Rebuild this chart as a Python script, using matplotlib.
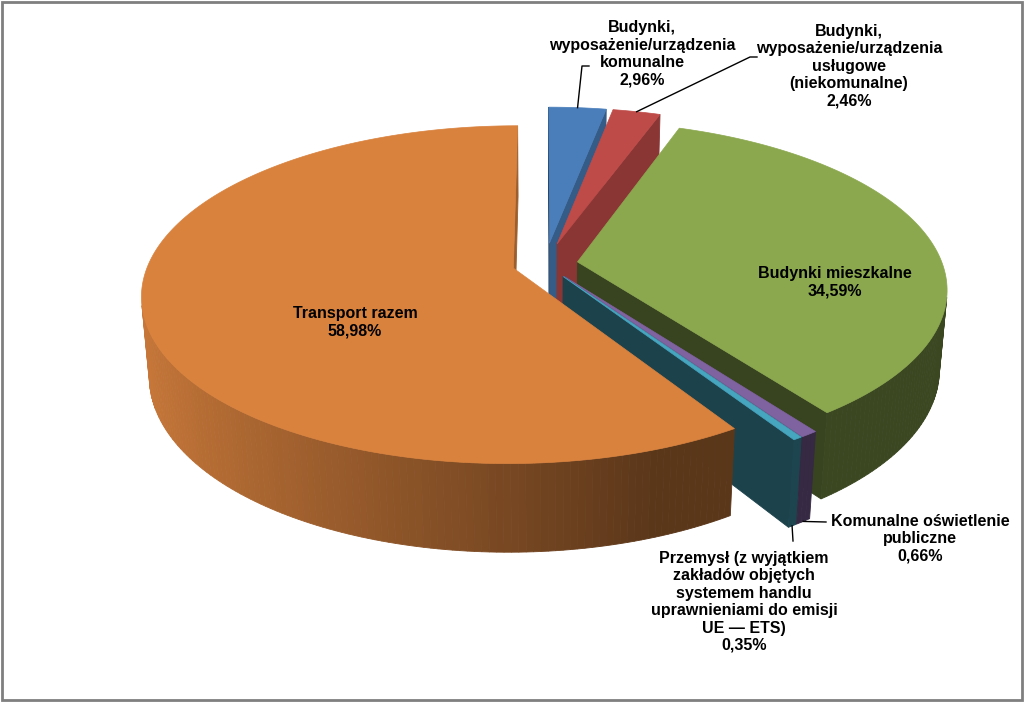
import numpy as np
import matplotlib.pyplot as plt
from matplotlib.patches import Polygon, Rectangle
from matplotlib.colors import to_rgb

plt.rcParams['font.family'] = ['Liberation Sans', 'DejaVu Sans']

# data (clockwise from 12 o'clock)
names = ['Budynki,\nwyposażenie/urządzenia\nkomunalne',
         'Budynki,\nwyposażenie/urządzenia\nusługowe\n(niekomunalne)',
         'Budynki mieszkalne',
         'Komunalne oświetlenie\npubliczne',
         'Przemysł (z wyjątkiem\nzakładów objętych\nsystemem handlu\nuprawnieniami do emisji\nUE — ETS)',
         'Transport razem']
values = [2.96, 2.46, 34.59, 0.66, 0.35, 58.98]
colors = ['#4A7EBB', '#BE4B48', '#8BA84F', '#7F62A0', '#46A5BF', '#D9823E']
explode = [0.13, 0.13, 0.09, 0.09, 0.09, 0.09]

# label placement (pixel space) and leader end points
label_pos = [(642, 54), (849, 66), (835, 282), (920, 539), (744, 602), (355, 322)]
leader_to = [[(582, 66), (589, 66)], [(750, 57), (757, 57)], None,
             [(826, 522)], [(793, 541)], None]
leader_from = ['top', 'top', None, 'bottom', 'bottom', None]

W, H = 1024, 702
fig = plt.figure(figsize=(W / 100, H / 100), dpi=100)
ax = fig.add_axes([0, 0, 1, 1])
ax.set_xlim(0, W)
ax.set_ylim(H, 0)
ax.axis('off')

# simple perspective camera
cx, cy = 545, 264
scale = 365
phi = np.radians(26.6)
dist = 5.71
thick = 0.245
vd = np.array([0, np.cos(phi), -np.sin(phi)])
vu = np.array([0, np.sin(phi), np.cos(phi)])
cam = -dist * vd


def proj(p):
    rel = p - cam
    dz = rel @ vd
    return (cx + scale * dist * rel[0] / dz, cy - scale * dist * (rel @ vu) / dz)


def pt(theta, r, z, off):
    t = np.radians(theta)
    return off + np.array([r * np.sin(t), r * np.cos(t), z])


def shade(c, f):
    return tuple(min(1, v * f) for v in to_rgb(c))


def side_factor(theta):
    return float(np.clip(0.55 - 0.38 * np.sin(np.radians(theta)), 0.42, 0.95))


frac = np.array(values) / sum(values)
edges = np.concatenate([[0], np.cumsum(frac) * 360])

sides = []
tops = []
offsets = []
for i, col in enumerate(colors):
    a, b = edges[i], edges[i + 1]
    mid = np.radians((a + b) / 2)
    off = explode[i] * np.array([np.sin(mid), np.cos(mid), 0])
    offsets.append(off)

    n = max(2, int(np.ceil(b - a)) + 1)
    th = np.linspace(a, b, n)
    tops.append(([proj(off)] + [proj(pt(t, 1, 0, off)) for t in th], col))

    # outer rim
    for t0, t1 in zip(th[:-1], th[1:]):
        q = [pt(t0, 1, 0, off), pt(t1, 1, 0, off), pt(t1, 1, -thick, off), pt(t0, 1, -thick, off)]
        tm = np.radians((t0 + t1) / 2)
        nrm = np.array([np.sin(tm), np.cos(tm), 0])
        cen = np.mean(q, axis=0)
        if (cam - cen) @ nrm > 0:
            key = np.mean([(p - cam) @ vd for p in q])
            sides.append((key, [proj(p) for p in q], shade(col, side_factor((t0 + t1) / 2))))

    # radial faces
    for ang, sgn in ((a, -1), (b, 1)):
        t = np.radians(ang)
        nrm = sgn * np.array([np.cos(t), -np.sin(t), 0])
        q = [off.copy(), pt(ang, 1, 0, off), pt(ang, 1, -thick, off),
             off + np.array([0, 0, -thick])]
        cen = np.mean(q, axis=0)
        if (cam - cen) @ nrm > 0:
            key = np.mean([(p - cam) @ vd for p in q])
            f = 0.72 if nrm[0] > 0 else 0.40
            sides.append((key, [proj(p) for p in q], shade(col, f)))

sides.sort(key=lambda s: -s[0])
for key, poly, c in sides:
    ax.add_patch(Polygon(poly, closed=True, facecolor=c, edgecolor=c, lw=0.6))
for poly, c in tops:
    ax.add_patch(Polygon(poly, closed=True, facecolor=c, edgecolor=c, lw=0.5))

# labels
for i, name in enumerate(names):
    txt = '%s\n%s%%' % (name, ('%.2f' % values[i]).replace('.', ','))
    x, y = label_pos[i]
    ax.text(x, y, txt, ha='center', va='center', fontsize=11.5, fontweight='bold',
            linespacing=1.2, color='black')
    if leader_to[i]:
        mid = (edges[i] + edges[i + 1]) / 2
        z = 0 if leader_from[i] == 'top' else -thick
        start = proj(pt(mid, 1, z, offsets[i]))
        pts = [start] + leader_to[i]
        ax.plot([p[0] for p in pts], [p[1] for p in pts], color='black', lw=1)

ax.add_patch(Rectangle((1.5, 1.5), W - 4, H - 4, fill=False, edgecolor='#7F7F7F', lw=2))

fig.savefig('out.png', dpi=100)
